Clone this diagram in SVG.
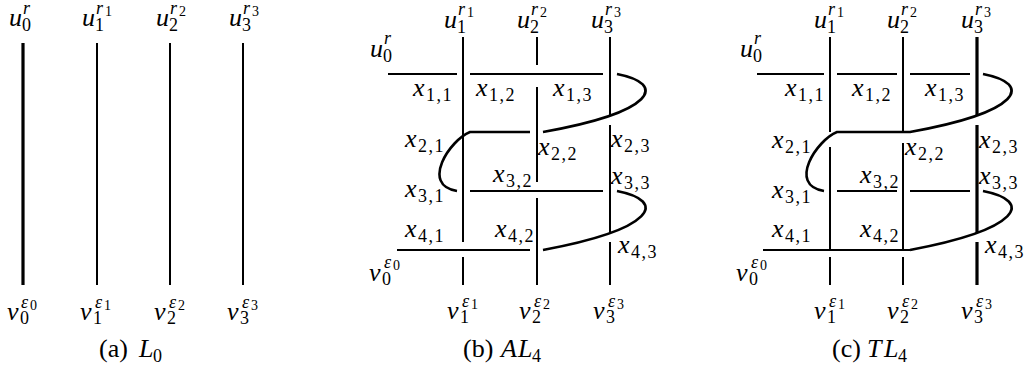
<svg xmlns="http://www.w3.org/2000/svg" width="1030" height="371" viewBox="0 0 1030 371">
<style>
text{font-family:'Liberation Serif','DejaVu Serif',serif;fill:#000}
.i{font-style:italic;font-size:26px}
.d{font-size:18px;font-style:normal}
.si{font-style:italic;font-size:18px}
.dd{font-size:14px;font-style:normal}
.c{font-size:26px;font-style:normal}
.ln{fill:none;stroke:#000;stroke-width:2;stroke-linecap:butt}
.th{fill:none;stroke:#000;stroke-width:3.2}
.cv{fill:none;stroke:#000;stroke-width:2.6;stroke-linejoin:round}
</style>
<rect width="1030" height="371" fill="#fff"/>

<!-- Panel (a) -->
<g id="a-strands">
<path class="th" d="M23,43V285"/>
<path class="ln" d="M97,43V285M170,43V285M243,43V285"/>
</g>
<g id="a-u0"><text class="i" x="9" y="26">u</text><text class="d" x="22" y="31">0</text><text class="si" x="23" y="14">r</text></g>
<g id="a-u1"><text class="i" x="82" y="26">u</text><text class="d" x="95" y="31">1</text><text class="si" x="96" y="14">r</text><text class="dd" x="105" y="16">1</text></g>
<g id="a-u2"><text class="i" x="156" y="26">u</text><text class="d" x="169" y="31">2</text><text class="si" x="170" y="14">r</text><text class="dd" x="179" y="16">2</text></g>
<g id="a-u3"><text class="i" x="229" y="26">u</text><text class="d" x="242" y="31">3</text><text class="si" x="243" y="14">r</text><text class="dd" x="252" y="16">3</text></g>
<g id="a-v0"><text class="i" x="7" y="320">v</text><text class="d" x="20" y="324">0</text><text class="si" x="21" y="308">ε</text><text class="dd" x="30" y="310">0</text></g>
<g id="a-v1"><text class="i" x="80" y="320">v</text><text class="d" x="93" y="324">1</text><text class="si" x="95" y="308">ε</text><text class="dd" x="104" y="310">1</text></g>
<g id="a-v2"><text class="i" x="154" y="320">v</text><text class="d" x="167" y="324">2</text><text class="si" x="169" y="308">ε</text><text class="dd" x="178" y="310">2</text></g>
<g id="a-v3"><text class="i" x="227" y="320">v</text><text class="d" x="240" y="324">3</text><text class="si" x="242" y="308">ε</text><text class="dd" x="251" y="310">3</text></g>
<g id="a-caption"><text class="c" x="99" y="357">(a)</text><text class="i" x="139" y="357">L</text><text class="d" x="153" y="362">0</text></g>

<!-- Panel (b) -->
<g id="b-strands">
<path class="ln" d="M463,37V242M463,257V285"/>
<path class="ln" d="M537,37V65M537,87V182M537,198V285"/>
<path class="ln" d="M610,37V116M610,125V233M610,242V285"/>
<path class="ln" d="M388,74H457M470,74H603M470,191H603M530,250H397"/>
<path class="cv" d="M617,74C668,84 655,112 543,132"/>
<path class="cv" d="M530,132H470C450,140 420,185 457,191"/>
<path class="cv" d="M617,191C668,201 655,229 543,250"/>
</g>
<g id="b-u0"><text class="i" x="370" y="57">u</text><text class="d" x="383" y="62">0</text><text class="si" x="384" y="44">r</text></g>
<g id="b-u1"><text class="i" x="444" y="28">u</text><text class="d" x="457" y="33">1</text><text class="si" x="458" y="15">r</text><text class="dd" x="467" y="17">1</text></g>
<g id="b-u2"><text class="i" x="517" y="28">u</text><text class="d" x="530" y="33">2</text><text class="si" x="531" y="15">r</text><text class="dd" x="540" y="17">2</text></g>
<g id="b-u3"><text class="i" x="591" y="28">u</text><text class="d" x="604" y="33">3</text><text class="si" x="605" y="15">r</text><text class="dd" x="614" y="17">3</text></g>
<g id="b-x11"><text class="i" x="413" y="96">x</text><text class="d" x="426" y="101" letter-spacing="1.5">1,1</text></g>
<g id="b-x12"><text class="i" x="476" y="96">x</text><text class="d" x="489" y="101" letter-spacing="1.5">1,2</text></g>
<g id="b-x13"><text class="i" x="553" y="96">x</text><text class="d" x="566" y="101" letter-spacing="1.5">1,3</text></g>
<g id="b-x21"><text class="i" x="405" y="147">x</text><text class="d" x="418" y="152" letter-spacing="1.5">2,1</text></g>
<g id="b-x22"><text class="i" x="538" y="155">x</text><text class="d" x="551" y="160" letter-spacing="1.5">2,2</text></g>
<g id="b-x23"><text class="i" x="611" y="147">x</text><text class="d" x="624" y="152" letter-spacing="1.5">2,3</text></g>
<g id="b-x31"><text class="i" x="405" y="197">x</text><text class="d" x="418" y="202" letter-spacing="1.5">3,1</text></g>
<g id="b-x32"><text class="i" x="493" y="182">x</text><text class="d" x="506" y="187" letter-spacing="1.5">3,2</text></g>
<g id="b-x33"><text class="i" x="611" y="184">x</text><text class="d" x="624" y="189" letter-spacing="1.5">3,3</text></g>
<g id="b-x41"><text class="i" x="405" y="237">x</text><text class="d" x="418" y="242" letter-spacing="1.5">4,1</text></g>
<g id="b-x42"><text class="i" x="495" y="237">x</text><text class="d" x="508" y="242" letter-spacing="1.5">4,2</text></g>
<g id="b-x43"><text class="i" x="618" y="253">x</text><text class="d" x="631" y="258" letter-spacing="1.5">4,3</text></g>
<g id="b-v0"><text class="i" x="369" y="281">v</text><text class="d" x="382" y="285">0</text><text class="si" x="384" y="268">ε</text><text class="dd" x="393" y="270">0</text></g>
<g id="b-v1"><text class="i" x="447" y="319">v</text><text class="d" x="460" y="323">1</text><text class="si" x="462" y="307">ε</text><text class="dd" x="471" y="309">1</text></g>
<g id="b-v2"><text class="i" x="519" y="319">v</text><text class="d" x="532" y="323">2</text><text class="si" x="534" y="307">ε</text><text class="dd" x="543" y="309">2</text></g>
<g id="b-v3"><text class="i" x="593" y="319">v</text><text class="d" x="606" y="323">3</text><text class="si" x="608" y="307">ε</text><text class="dd" x="617" y="309">3</text></g>
<g id="b-caption"><text class="c" x="463" y="357">(b)</text><text class="i" x="501" y="357">A</text><text class="i" x="518" y="357">L</text><text class="d" x="532" y="362">4</text></g>

<!-- Panel (c) -->
<g id="c-strands">
<path class="ln" d="M830,37V132M830,147V250M830,257V285"/>
<path class="ln" d="M903,37V132M903,143V250M903,257V285"/>
<path class="th" d="M977,37V116M977,125V233M977,242V285"/>
<path class="ln" d="M757,74H824M837,74H897M910,74H970M837,191H897M910,191H970M910,250H763"/>
<path class="cv" d="M983,74C1034,84 1021,112 910,132H837C817,140 787,185 824,191"/>
<path class="cv" d="M983,191C1034,201 1021,229 910,250"/>
</g>
<g id="c-u0"><text class="i" x="740" y="57">u</text><text class="d" x="753" y="62">0</text><text class="si" x="754" y="44">r</text></g>
<g id="c-u1"><text class="i" x="814" y="28">u</text><text class="d" x="827" y="33">1</text><text class="si" x="828" y="15">r</text><text class="dd" x="837" y="17">1</text></g>
<g id="c-u2"><text class="i" x="887" y="28">u</text><text class="d" x="900" y="33">2</text><text class="si" x="901" y="15">r</text><text class="dd" x="910" y="17">2</text></g>
<g id="c-u3"><text class="i" x="961" y="28">u</text><text class="d" x="974" y="33">3</text><text class="si" x="975" y="15">r</text><text class="dd" x="984" y="17">3</text></g>
<g id="c-x11"><text class="i" x="785" y="96">x</text><text class="d" x="798" y="101" letter-spacing="1.5">1,1</text></g>
<g id="c-x12"><text class="i" x="852" y="96">x</text><text class="d" x="865" y="101" letter-spacing="1.5">1,2</text></g>
<g id="c-x13"><text class="i" x="925" y="96">x</text><text class="d" x="938" y="101" letter-spacing="1.5">1,3</text></g>
<g id="c-x21"><text class="i" x="772" y="148">x</text><text class="d" x="785" y="153" letter-spacing="1.5">2,1</text></g>
<g id="c-x22"><text class="i" x="905" y="155">x</text><text class="d" x="918" y="160" letter-spacing="1.5">2,2</text></g>
<g id="c-x23"><text class="i" x="979" y="148">x</text><text class="d" x="992" y="153" letter-spacing="1.5">2,3</text></g>
<g id="c-x31"><text class="i" x="772" y="198">x</text><text class="d" x="785" y="203" letter-spacing="1.5">3,1</text></g>
<g id="c-x32"><text class="i" x="860" y="183">x</text><text class="d" x="873" y="188" letter-spacing="1.5">3,2</text></g>
<g id="c-x33"><text class="i" x="979" y="184">x</text><text class="d" x="992" y="189" letter-spacing="1.5">3,3</text></g>
<g id="c-x41"><text class="i" x="772" y="237">x</text><text class="d" x="785" y="242" letter-spacing="1.5">4,1</text></g>
<g id="c-x42"><text class="i" x="860" y="237">x</text><text class="d" x="873" y="242" letter-spacing="1.5">4,2</text></g>
<g id="c-x43"><text class="i" x="985" y="253">x</text><text class="d" x="998" y="258" letter-spacing="1.5">4,3</text></g>
<g id="c-v0"><text class="i" x="736" y="281">v</text><text class="d" x="749" y="285">0</text><text class="si" x="751" y="268">ε</text><text class="dd" x="760" y="270">0</text></g>
<g id="c-v1"><text class="i" x="814" y="319">v</text><text class="d" x="827" y="323">1</text><text class="si" x="829" y="307">ε</text><text class="dd" x="838" y="309">1</text></g>
<g id="c-v2"><text class="i" x="887" y="319">v</text><text class="d" x="900" y="323">2</text><text class="si" x="902" y="307">ε</text><text class="dd" x="911" y="309">2</text></g>
<g id="c-v3"><text class="i" x="961" y="319">v</text><text class="d" x="974" y="323">3</text><text class="si" x="976" y="307">ε</text><text class="dd" x="985" y="309">3</text></g>
<g id="c-caption"><text class="c" x="832" y="357">(c)</text><text class="i" x="867" y="357">T</text><text class="i" x="884" y="357">L</text><text class="d" x="898" y="362">4</text></g>
</svg>
